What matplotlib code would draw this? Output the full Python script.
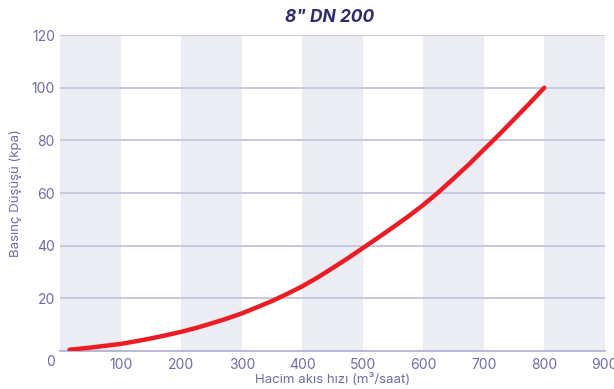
import numpy as np
import matplotlib
matplotlib.use("Agg")
import matplotlib.pyplot as plt

plt.rcParams['font.family'] = ['Inter', 'DejaVu Sans']

# values
flow = [15, 25, 50, 75, 100, 125, 150, 175, 200, 225, 250, 275, 300, 325, 350, 375,
        400, 425, 450, 475, 500, 525, 550, 575, 600, 625, 650, 675, 700, 725, 750, 775, 800]
drop = [0.5, 0.7, 1.3, 2.0, 2.7, 3.7, 4.8, 6.0, 7.3, 8.8, 10.5, 12.3, 14.3, 16.6, 19.0, 21.7,
        24.6, 27.9, 31.5, 35.2, 39.1, 43.0, 47.0, 51.1, 55.5, 60.3, 65.5, 70.8, 76.5, 82.1, 88.0, 93.9, 100.0]

x_ticks = [100, 200, 300, 400, 500, 600, 700, 800, 900]
y_ticks = [20, 40, 60, 80, 100, 120]
band_starts = [0, 200, 400, 600, 800]

title = '8" DN 200'
xlabel = 'Hacim akıs hızı (m³/saat)'
ylabel = 'Basınç Düşüşü (kpa)'

txt = '#6e6ca6'
grid = '#c9c7de'

fig = plt.figure(figsize=(6.14, 3.89), dpi=100)
ax = fig.add_axes([0.0985, 0.0977, 0.8865, 0.8123])

for b in band_starts:
    ax.axvspan(b, b + 100, color='#ececf3', lw=0, zorder=0)
for y in y_ticks:
    ax.axhline(y, color=grid, lw=1.4, zorder=1)

ax.plot(flow, drop, color='#ec1c24', lw=3.2, solid_capstyle='round', zorder=3)

ax.set_xlim(0, 900)
ax.set_ylim(0, 120)
ax.set_xticks(x_ticks)
ax.set_yticks(y_ticks)
for s in ['top', 'right', 'left']:
    ax.spines[s].set_visible(False)
ax.spines['bottom'].set_color('#aeacd0')
ax.spines['bottom'].set_linewidth(1.2)
ax.tick_params(length=0, labelsize=10, colors=txt)
ax.tick_params(axis='x', pad=5)
ax.tick_params(axis='y', pad=4)
ax.text(-0.018, -0.035, '0', transform=ax.transAxes, ha='center', va='center',
        fontsize=10, color=txt)

ax.set_xlabel(xlabel, fontsize=9.5, color=txt, labelpad=1)
ax.set_ylabel(ylabel, fontsize=9.5, color=txt, labelpad=7)
fig.text(0.537, 0.956, title, ha='center', va='center', fontsize=12.5,
         fontweight='bold', style='italic', color='#2c2b6b')

fig.savefig('out.png', dpi=100)
